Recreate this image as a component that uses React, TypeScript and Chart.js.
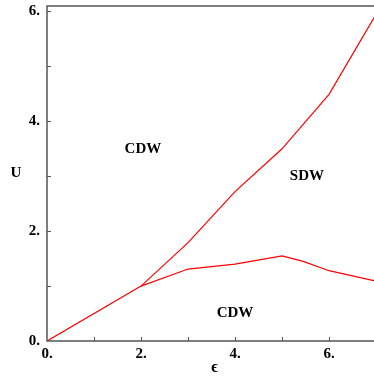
import React, { useEffect, useRef } from "react";
import { Chart, registerables } from "chart.js";

Chart.register(...registerables);

// Phase boundary: CDW / SDW (upper line)
const upperEps = [0, 2, 3, 4, 5, 6, 7];
const upperU = [0, 1.0, 1.79, 2.72, 3.5, 4.49, 5.95];
// Phase boundary: SDW / CDW (lower line)
const lowerEps = [2, 3, 4, 5, 5.45, 6, 7];
const lowerU = [1.0, 1.31, 1.4, 1.55, 1.45, 1.28, 1.09];

const xTickValues = [0, 1, 2, 3, 4, 5, 6, 7];
const yTickValues = [0, 1, 2, 3, 4, 5, 6];

const regionLabels = ["CDW", "SDW", "CDW"];
const regionEps = [2.04, 5.53, 4.0];
const regionU = [3.5, 3.01, 0.51];

const xTitle = "ϵ";
const yTitle = "U";

const FONT = "'Liberation Serif', 'Times New Roman', serif";

export default function App() {
  const ref = useRef<HTMLCanvasElement | null>(null);

  useEffect(() => {
    if (!ref.current) return;
    const framePlugin = {
      id: "frame",
      afterDraw(chart: any) {
        const { ctx, chartArea } = chart;
        const xs = chart.scales.x;
        const ys = chart.scales.y;
        const { left, right, top, bottom } = chartArea;
        ctx.save();
        ctx.strokeStyle = "#555";
        ctx.lineWidth = 1.5;
        ctx.beginPath();
        ctx.rect(left, top, right - left, bottom - top);
        ctx.stroke();
        ctx.lineWidth = 1;
        ctx.beginPath();
        xTickValues.slice(1).forEach((v) => {
          const px = Math.round(xs.getPixelForValue(v)) + 0.5;
          ctx.moveTo(px, bottom);
          ctx.lineTo(px, bottom - 4);
        });
        yTickValues.slice(1).forEach((v) => {
          const py = Math.round(ys.getPixelForValue(v)) + 0.5;
          ctx.moveTo(left, py);
          ctx.lineTo(left + 4, py);
        });
        ctx.stroke();
        ctx.fillStyle = "#000";
        ctx.textAlign = "center";
        ctx.textBaseline = "middle";
        ctx.font = `bold 15px ${FONT}`;
        regionLabels.forEach((t, i) => {
          ctx.fillText(t, xs.getPixelForValue(regionEps[i]), ys.getPixelForValue(regionU[i]));
        });
        ctx.fillText(yTitle, 16, (top + bottom) / 2);
        ctx.font = `bold 16px ${FONT}`;
        ctx.fillText(xTitle, (left + right) / 2 + 3, 368);
        ctx.restore();
      },
    };

    const tickCb = (v: any) => (Math.abs(v % 2) < 1e-9 ? `${v}.` : "");

    const chart = new Chart(ref.current, {
      type: "line",
      data: {
        datasets: [
          {
            data: upperEps.map((x, i) => ({ x, y: upperU[i] })),
            borderColor: "#ff0000",
            borderWidth: 1.2,
            pointRadius: 0,
            tension: 0,
            fill: false,
          },
          {
            data: lowerEps.map((x, i) => ({ x, y: lowerU[i] })),
            borderColor: "#ff0000",
            borderWidth: 1.2,
            pointRadius: 0,
            tension: 0,
            fill: false,
          },
        ],
      },
      options: {
        animation: false,
        responsive: false,
        layout: { padding: { top: 6, right: 2, left: 0, bottom: 0 } },
        plugins: { legend: { display: false }, tooltip: { enabled: false } },
        scales: {
          x: {
            type: "linear",
            min: 0,
            max: 7,
            grid: { display: false, drawTicks: false },
            border: { display: false },
            afterBuildTicks: (s: any) => {
              s.ticks = xTickValues.map((value) => ({ value }));
            },
            ticks: {
              autoSkip: false,
              maxRotation: 0,
              callback: tickCb,
              color: "#000",
              padding: 4,
              font: { family: FONT, size: 15, weight: "bold" },
            },
            afterFit: (s: any) => {
              s.height = 38;
              s.paddingLeft = 0;
              s.paddingRight = 0;
            },
          },
          y: {
            type: "linear",
            min: 0,
            max: 6.1,
            grid: { display: false, drawTicks: false },
            border: { display: false },
            afterBuildTicks: (s: any) => {
              s.ticks = yTickValues.map((value) => ({ value }));
            },
            ticks: {
              autoSkip: false,
              callback: tickCb,
              color: "#000",
              padding: 7,
              font: { family: FONT, size: 15, weight: "bold" },
            },
            afterFit: (s: any) => {
              s.width = 47;
              s.paddingTop = 0;
              s.paddingBottom = 0;
            },
          },
        },
      },
      plugins: [framePlugin],
    });
    return () => chart.destroy();
  }, []);

  return (
    <div
      style={{
        position: "absolute",
        left: 0,
        top: 0,
        width: 374,
        height: 379,
        overflow: "hidden",
        background: "#fff",
      }}
    >
      <canvas ref={ref} width={378} height={379} style={{ display: "block" }} />
    </div>
  );
}
